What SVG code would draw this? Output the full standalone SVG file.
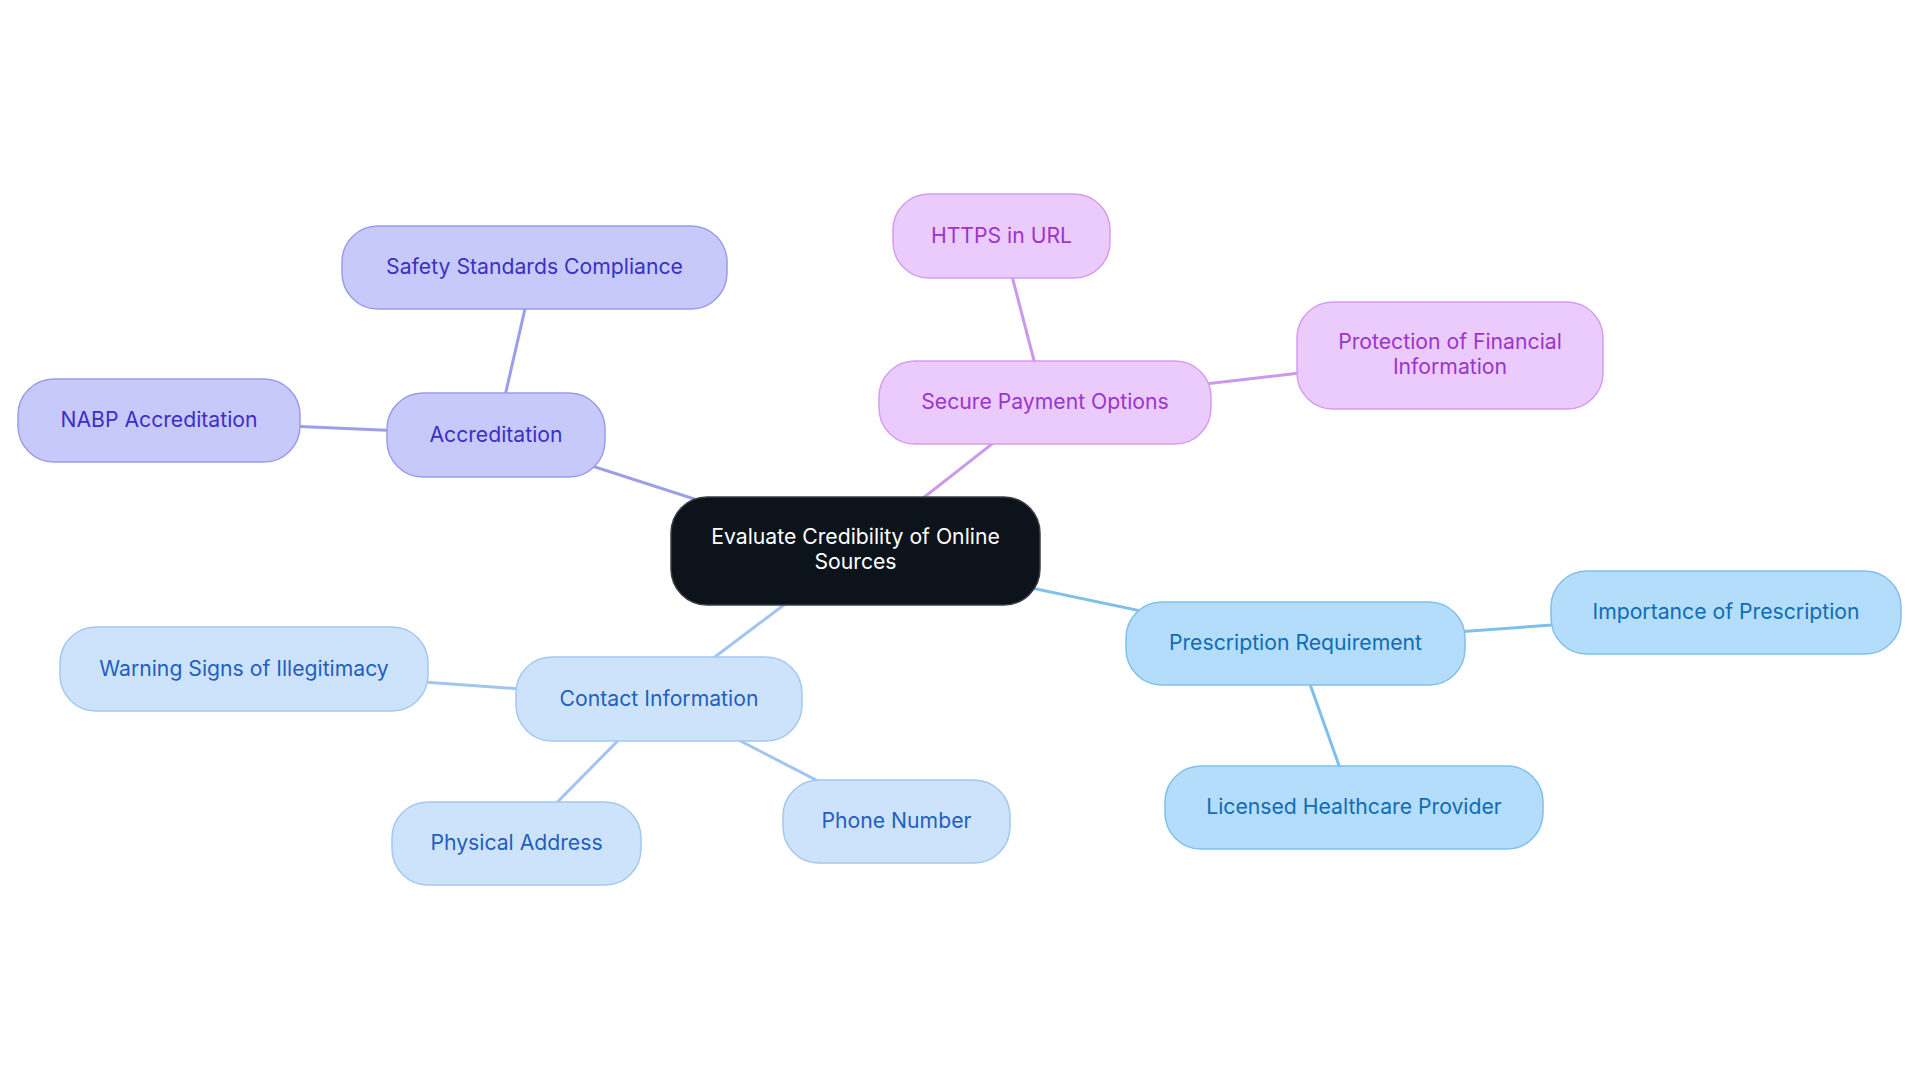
<svg xmlns="http://www.w3.org/2000/svg" width="1920" height="1083" viewBox="0 0 1920 1083">
<style>
text{font-family:Inter,"Noto Sans","Liberation Sans",sans-serif;font-size:21.2px;text-anchor:middle}
.c0 rect{fill:#0d131a;stroke:#3a3f46;stroke-width:1.5}
.c0 text{fill:#ffffff}
.c1 rect{fill:#c8c9fb;stroke:#9b9be9;stroke-width:1.5}
.c1 text{fill:#3a30c4}
.c2 rect{fill:#ebcbfc;stroke:#d59cf0;stroke-width:1.5}
.c2 text{fill:#9a35cc}
.c3 rect{fill:#b3ddfa;stroke:#80c0ea;stroke-width:1.5}
.c3 text{fill:#0f6cb6}
.c4 rect{fill:#cde3fb;stroke:#a3c8f0;stroke-width:1.5}
.c4 text{fill:#1e5fc0}
#connectors line{stroke-width:3;fill:none}
.l1{stroke:#9d9de9}
.l2{stroke:#cc98ec}
.l3{stroke:#7fc0e8}
.l4{stroke:#a2c5f0}
</style>
<rect width="1920" height="1083" fill="#ffffff"/>
<g id="connectors">
<line class="l1" x1="855.5" y1="551" x2="496" y2="435"/>
<line class="l1" x1="496" y1="435" x2="534.5" y2="267.5"/>
<line class="l1" x1="496" y1="435" x2="159" y2="420.5"/>
<line class="l2" x1="855.5" y1="551" x2="1045" y2="402.5"/>
<line class="l2" x1="1045" y1="402.5" x2="1001.5" y2="236"/>
<line class="l2" x1="1045" y1="402.5" x2="1450" y2="355.5"/>
<line class="l3" x1="855.5" y1="551" x2="1295.5" y2="643.5"/>
<line class="l3" x1="1295.5" y1="643.5" x2="1726" y2="612.5"/>
<line class="l3" x1="1295.5" y1="643.5" x2="1354" y2="807.5"/>
<line class="l4" x1="855.5" y1="551" x2="659" y2="699"/>
<line class="l4" x1="659" y1="699" x2="244" y2="669"/>
<line class="l4" x1="659" y1="699" x2="516.5" y2="843.5"/>
<line class="l4" x1="659" y1="699" x2="896.5" y2="821.5"/>
</g>
<g id="center" class="c0"><rect x="671" y="497" width="369" height="108" rx="36"/><text x="855.5" y="544">Evaluate Credibility of Online</text><text x="855.5" y="569">Sources</text></g>
<g id="accreditation" class="c1"><rect x="387" y="393" width="218" height="84" rx="36"/><text x="496" y="441.5">Accreditation</text></g>
<g id="safety" class="c1"><rect x="342" y="226" width="385" height="83" rx="36"/><text x="534.5" y="274">Safety Standards Compliance</text></g>
<g id="nabp" class="c1"><rect x="18" y="379" width="282" height="83" rx="36"/><text x="159" y="427">NABP Accreditation</text></g>
<g id="secure" class="c2"><rect x="879" y="361" width="332" height="83" rx="36"/><text x="1045" y="409">Secure Payment Options</text></g>
<g id="https" class="c2"><rect x="893" y="194" width="217" height="84" rx="36"/><text x="1001.5" y="242.5">HTTPS in URL</text></g>
<g id="protection" class="c2"><rect x="1297" y="302" width="306" height="107" rx="36"/><text x="1450" y="349">Protection of Financial</text><text x="1450" y="374">Information</text></g>
<g id="prescription" class="c3"><rect x="1126" y="602" width="339" height="83" rx="36"/><text x="1295.5" y="650">Prescription Requirement</text></g>
<g id="importance" class="c3"><rect x="1551" y="571" width="350" height="83" rx="36"/><text x="1726" y="619">Importance of Prescription</text></g>
<g id="licensed" class="c3"><rect x="1165" y="766" width="378" height="83" rx="36"/><text x="1354" y="814">Licensed Healthcare Provider</text></g>
<g id="contact" class="c4"><rect x="516" y="657" width="286" height="84" rx="36"/><text x="659" y="705.5">Contact Information</text></g>
<g id="warning" class="c4"><rect x="60" y="627" width="368" height="84" rx="36"/><text x="244" y="675.5">Warning Signs of Illegitimacy</text></g>
<g id="physical" class="c4"><rect x="392" y="802" width="249" height="83" rx="36"/><text x="516.5" y="850">Physical Address</text></g>
<g id="phone" class="c4"><rect x="783" y="780" width="227" height="83" rx="36"/><text x="896.5" y="828">Phone Number</text></g>
</svg>
